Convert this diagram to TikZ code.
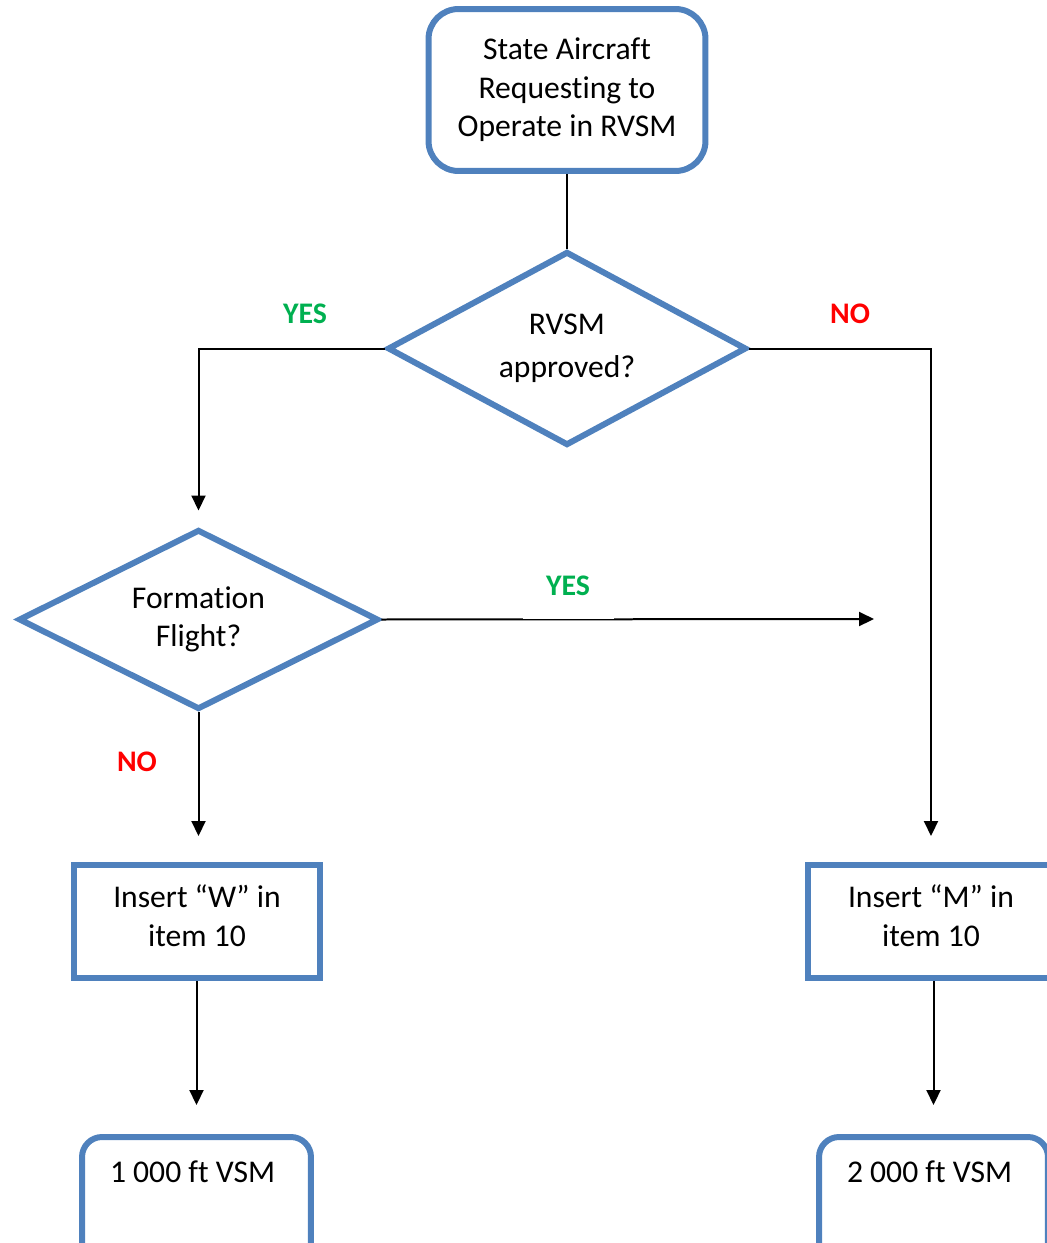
\documentclass[tikz,border=0pt]{standalone}
\usepackage{fontspec}
\setmainfont{Carlito}[Ligatures=NoCommon]
\usetikzlibrary{positioning,calc,shapes.geometric,arrows.meta}

\definecolor{boxblue}{HTML}{4F81BD}
\definecolor{yesgreen}{HTML}{00B050}
\definecolor{nored}{HTML}{FF0000}

\begin{document}
\begin{tikzpicture}[
	x=0.02cm, y=-0.02cm,
	font=\fontsize{18}{22}\selectfont,
	% Style cho khung bắt đầu (bo góc)
	startbox/.style={draw=boxblue, line width=0.12cm, rounded corners=0.6cm,
		minimum width=5.54cm, minimum height=3.24cm, align=center, inner sep=0},
	% Style cho hình thoi quyết định
	decision/.style={diamond, aspect=2, draw=boxblue, line width=0.12cm,
		align=center, inner sep=0},
	% Style cho ô chữ nhật
	itembox/.style={draw=boxblue, line width=0.12cm,
		minimum width=4.92cm, minimum height=2.26cm, align=center, inner sep=0},
	% Style cho ô kết quả (chữ ở trên)
	vsmbox/.style={draw=boxblue, line width=0.12cm, rounded corners=0.4cm,
		text width=3.46cm, inner xsep=0.56cm, inner ysep=0, align=flush left,
		text height=0.9cm, text depth=1.6cm},
	% Style cho đường nối và mũi tên
	conn/.style={black, line width=0.04cm},
	arrow/.style={conn, -{Triangle[length=0.3cm,width=0.28cm]}},
	yeslabel/.style={text=yesgreen, font=\fontsize{17}{22}\selectfont\bfseries},
	nolabel/.style={text=nored, font=\fontsize{17}{22}\selectfont\bfseries}
	]
	\path[use as bounding box, clip] (0,0) rectangle (1047,1243);
	
	% --- CÁC KHUNG ---
	\node[startbox] (start) at (567,90) {State Aircraft\\Requesting to\\Operate in RVSM};
	\node[decision, minimum width=7.18cm, minimum height=3.88cm] (rvsm) at (567,348.5) {RVSM\\[0.15em]approved?};
	\node[decision, minimum width=7.2cm, minimum height=3.6cm] (formation) at (198.5,619.5) {Formation\\Flight?};
	\node[itembox] (wbox) at (197,921.5) {Insert “W” in\\item 10\\[-0.54cm]};
	\node[itembox] (mbox) at (931,921.5) {Insert “M” in\\item 10\\[-0.54cm]};
	\node[vsmbox] (v1000) at (196.5,1199.5) {1 000 ft VSM};
	\node[vsmbox] (v2000) at (933.5,1199.5) {2 000 ft VSM};
	
	% --- CÁC ĐƯỜNG NỐI ---
	\draw[conn] (start) -- (rvsm);
	% RVSM approved? -> YES
	\draw[arrow, shorten >=0.32cm] (rvsm.west) -| (formation.north);
	% RVSM approved? -> NO
	\draw[arrow, shorten >=0.52cm] (rvsm.east) -| (mbox.north);
	% Formation Flight? -> YES
	\coordinate (yesend) at (874,619);
	\draw[arrow] (formation.east) -- (yesend);
	% Formation Flight? -> NO
	\draw[arrow, shorten >=0.52cm] (formation.south) -- (formation.south |- wbox.north);
	% Insert -> VSM
	\draw[arrow, shorten >=0.58cm] (wbox.south -| v1000.north) -- (v1000.north);
	\draw[arrow, shorten >=0.58cm] (mbox.south -| v2000.north) -- (v2000.north);
	
	% --- NHÃN YES / NO ---
	\node[yeslabel] (yes1) at (305,314) {YES};
	\node[nolabel] (no1) at (850,314) {NO};
	\node[yeslabel, fill=white, minimum width=1.82cm, minimum height=1.32cm] (yes2) at (568,586) {YES};
	\node[nolabel] (no2) at (137,762) {NO};
	
\end{tikzpicture}
\end{document}
